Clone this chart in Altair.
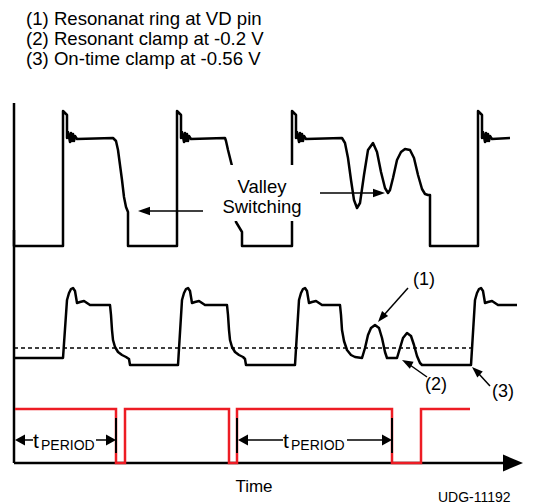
import altair as alt
import pandas as pd

# ---- waveform data (time, level) ----
# Drain voltage (VD) waveform: three switching cycles, the last with resonant ringing
vd_points = [
    (14, 230), (14, 246), (63, 246), (63, 111), (67, 115), (67, 138),
    (68, 132), (70, 142), (71, 133), (72, 141), (73, 134), (74, 141), (75, 136), (77, 139),
    (113, 138), (116, 141), (118, 150), (120, 165), (122, 180), (124, 197), (126, 207), (128, 212),
    (128, 246), (177, 246), (177, 111), (181, 115), (181, 138),
    (182, 132), (184, 142), (185, 133), (186, 141), (187, 134), (188, 141), (189, 136), (191, 139),
    (225, 138), (226, 141), (228, 150), (230, 158), (232, 166), (234, 190), (235, 215),
    (236, 222), (239, 227), (242, 232),
    (242, 246), (292, 246), (292, 111), (296, 115), (296, 138),
    (297, 132), (299, 142), (300, 133), (301, 141), (302, 134), (303, 141), (304, 136), (306, 139),
    (342, 138), (345, 143), (348, 158), (351, 180), (354, 200), (357, 208), (360, 203),
    (364, 175), (368, 150), (373, 143), (377, 152), (381, 172), (385, 188), (388, 193),
    (390, 190), (393, 178), (397, 160), (401, 152), (405, 149), (410, 150), (414, 158),
    (418, 175), (422, 189), (425, 194), (428, 195), (430, 195),
    (430, 246), (478, 246), (478, 111), (482, 115), (482, 138),
    (483, 132), (485, 142), (486, 133), (487, 141), (488, 134), (489, 141), (490, 136), (492, 139),
    (510, 138),
]

# Sensed VD waveform with clamp levels
cs_points = [
    (14, 358), (63, 358), (67, 300), (69, 293), (71, 289), (73, 288), (75, 291), (76, 297), (77, 303),
    (80, 302), (84, 301), (87, 303), (90, 305), (110, 305), (111, 315), (112, 330), (113, 340),
    (115, 347), (118, 352), (122, 355), (126, 357), (129, 359), (130, 365),
    (178, 365), (182, 300), (184, 293), (186, 289), (188, 288), (190, 291), (191, 297), (192, 303),
    (195, 302), (199, 301), (202, 303), (205, 305), (227, 305), (228, 315), (229, 330), (230, 340),
    (232, 347), (235, 352), (239, 355), (243, 357), (245, 359), (246, 365),
    (295, 365), (299, 300), (301, 293), (303, 289), (305, 288), (307, 291), (308, 297), (309, 303),
    (312, 302), (316, 301), (319, 303), (322, 305), (340, 305), (341, 315), (342, 330), (344, 341),
    (347, 350), (351, 355), (355, 357), (362, 358), (365, 348), (368, 335), (371, 328), (375, 325),
    (379, 328), (382, 338), (385, 352), (387, 358), (397, 358), (400, 348), (403, 338), (407, 333),
    (411, 336), (414, 345), (417, 356), (420, 363), (422, 365),
    (471, 365), (475, 300), (477, 293), (479, 289), (481, 288), (483, 291), (484, 297), (485, 303),
    (488, 302), (492, 301), (495, 303), (498, 305), (517, 305),
]

# Gate drive (red) waveform
gate_points = [
    (15, 409), (116, 409), (116, 463), (125, 463), (125, 409), (229, 409), (229, 463),
    (237, 463), (237, 409), (392, 409), (392, 463), (421, 463), (421, 409), (470, 409),
]

# Zero-crossing reference (dashed)
ref_level = [(14, 348), (473, 348)]

# Axes and extension marks
axis_segments = {
    "yaxis": [(14, 103), (14, 463)],
    "xaxis": [(14, 463), (505, 463)],
}
tick_segments = {
    "m1": [(116, 418), (116, 453)],
    "m2": [(237, 418), (237, 453)],
    "m3": [(392, 418), (392, 453)],
}
arrow_segments = {
    "valleyL": [(203, 211), (146, 211)],
    "valleyR": [(320, 193), (376, 193)],
    "a1": [(408, 288), (384, 315)],
    "a2": [(427, 377), (410, 365)],
    "a3": [(490, 386), (479, 374)],
    "p1L": [(22, 440), (33, 440)],
    "p1R": [(96, 440), (108, 440)],
    "p2L": [(246, 440), (283, 440)],
    "p2R": [(347, 440), (384, 440)],
}
# arrow heads: tip x, tip y, direction (deg, clockwise from +x), head length
head_x = [138, 385, 378, 402, 472]
head_y = [211, 193, 322, 360, 367]
head_angle = [180, 0, 130, 208, 223]
head_len = [12, 12, 11, 11, 11]

dim_head_x = [15, 116, 238, 392]
dim_head_y = [440, 440, 440, 440]
dim_head_angle = [180, 0, 180, 0]

axis_head = [(523, 463)]

# text labels
left_labels = [
    ("(1) Resonanat ring at VD pin", 26, 25, 18.6),
    ("(2) Resonant clamp at -0.2 V", 26, 45, 18.6),
    ("(3) On-time clamp at -0.56 V", 26, 65, 18.6),
    ("(1)", 413, 285, 18),
    ("(2)", 425, 390, 18),
    ("(3)", 492, 397, 18),
    ("t", 33, 448, 21),
    ("PERIOD", 41, 450, 14),
    ("t", 283, 448, 21),
    ("PERIOD", 291, 450, 14),
    ("UDG-11192", 438, 502, 14),
]
center_labels = [
    ("Valley", 262, 193, 18.5),
    ("Switching", 262, 213, 18.5),
    ("Time", 254, 492, 17),
]
label_mask = [(221, 303, 165, 221)]

# ---- build tables ----
def trace_df(points):
    return pd.DataFrame({"x": [p[0] for p in points], "y": [p[1] for p in points],
                         "i": list(range(len(points)))})

def seg_df(segs):
    rows = []
    for k, pts in segs.items():
        for j, (x, y) in enumerate(pts):
            rows.append({"seg": k, "x": x, "y": y, "i": j})
    return pd.DataFrame(rows)

xs = alt.Scale(domain=[8, 526], nice=False, zero=False)
ys = alt.Scale(domain=[8, 504], nice=False, zero=False, reverse=True)
X = lambda: alt.X("x:Q", scale=xs, axis=None)
Y = lambda: alt.Y("y:Q", scale=ys, axis=None)

FONT = "Arial, Liberation Sans"

dashed = alt.Chart(trace_df(ref_level)).mark_line(
    color="black", strokeWidth=1.5, strokeDash=[4, 3]
).encode(x=X(), y=Y(), order="i:Q")

cs = alt.Chart(trace_df(cs_points)).mark_line(
    color="black", strokeWidth=2.5, strokeJoin="round"
).encode(x=X(), y=Y(), order="i:Q")

vd = alt.Chart(trace_df(vd_points)).mark_line(
    color="black", strokeWidth=2.5, strokeJoin="round"
).encode(x=X(), y=Y(), order="i:Q")

axes = alt.Chart(seg_df(axis_segments)).mark_line(
    color="black", strokeWidth=2.5
).encode(x=X(), y=Y(), detail="seg:N", order="i:Q")

gate = alt.Chart(trace_df(gate_points)).mark_line(
    color="#ed1c24", strokeWidth=2.5, strokeJoin="miter"
).encode(x=X(), y=Y(), order="i:Q")

ticks = alt.Chart(seg_df(tick_segments)).mark_line(
    color="black", strokeWidth=2
).encode(x=X(), y=Y(), detail="seg:N", order="i:Q")

mask_df = pd.DataFrame([{"x": a, "x2": b, "y": c, "y2": d} for a, b, c, d in label_mask])
mask = alt.Chart(mask_df).mark_rect(color="white").encode(
    x=X(), x2="x2:Q", y=Y(), y2="y2:Q")

arrows = alt.Chart(seg_df(arrow_segments)).mark_line(
    color="black", strokeWidth=1.5
).encode(x=X(), y=Y(), detail="seg:N", order="i:Q")

heads_df = pd.DataFrame({"x": head_x, "y": head_y, "angle": head_angle,
                         "size": [4 * L * L for L in head_len]})
heads = alt.Chart(heads_df).mark_point(
    shape="M0,0L-1,-0.36L-1,0.36Z", filled=True, color="black", opacity=1, strokeWidth=0
).encode(x=X(), y=Y(), angle=alt.Angle("angle:Q", scale=None),
         size=alt.Size("size:Q", scale=None))

dim_df = pd.DataFrame({"x": dim_head_x, "y": dim_head_y, "angle": dim_head_angle,
                       "size": [400] * len(dim_head_x)})
dim_heads = alt.Chart(dim_df).mark_point(
    shape="M0,0L-1,-0.55L-1,0.55Z", filled=True, color="black", opacity=1, strokeWidth=0
).encode(x=X(), y=Y(), angle=alt.Angle("angle:Q", scale=None),
         size=alt.Size("size:Q", scale=None))

ax_df = pd.DataFrame({"x": [p[0] for p in axis_head], "y": [p[1] for p in axis_head],
                      "size": [1600]})
ax_head = alt.Chart(ax_df).mark_point(
    shape="M0,0L-1,-0.42L-1,0.42Z", filled=True, color="black", opacity=1, strokeWidth=0
).encode(x=X(), y=Y(), size=alt.Size("size:Q", scale=None))

ldf = pd.DataFrame(left_labels, columns=["text", "x", "y", "fs"])
ltext = alt.Chart(ldf).mark_text(
    align="left", baseline="alphabetic", font=FONT, color="black"
).encode(x=X(), y=Y(), text="text:N", size=alt.Size("fs:Q", scale=None))

cdf = pd.DataFrame(center_labels, columns=["text", "x", "y", "fs"])
ctext = alt.Chart(cdf).mark_text(
    align="center", baseline="alphabetic", font=FONT, color="black"
).encode(x=X(), y=Y(), text="text:N", size=alt.Size("fs:Q", scale=None))

chart = alt.layer(
    dashed, cs, vd, axes, gate, ticks, mask, arrows, heads, dim_heads, ax_head, ltext, ctext
).properties(
    width=518, height=496,
    autosize=alt.AutoSizeParams(type="none"),
    padding=0,
    background="white",
).configure_view(stroke=None)

chart.save("out.html", embed_options={"renderer": "svg", "actions": False})
